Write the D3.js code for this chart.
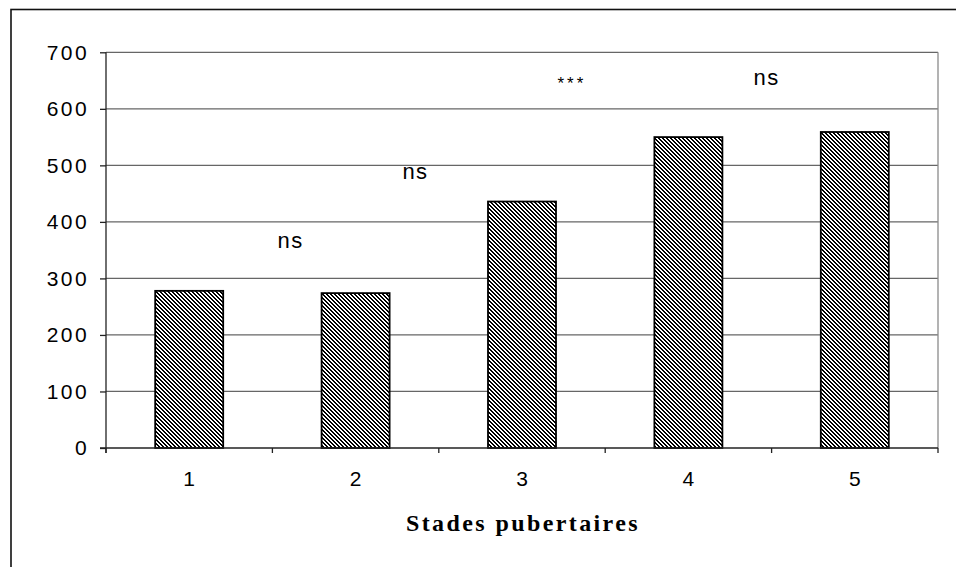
<!DOCTYPE html>
<html>
<head>
<meta charset="utf-8">
<script src="https://cdn.jsdelivr.net/npm/d3@7"></script>
<style>
  html, body { margin: 0; padding: 0; background: #fff; }
  svg { display: block; }
</style>
</head>
<body>
<svg id="chart" width="956" height="567"></svg>
<script>
// Pubertal stages and the mean value measured at each stage
const stages = ["1", "2", "3", "4", "5"];
const values = [278, 274, 436, 550, 559];
const yTicks = [0, 100, 200, 300, 400, 500, 600, 700];

// Significance marks between consecutive stages
const markLabels = ["ns", "ns", "***", "ns"];
const markStage = [1.61, 2.36, 3.3, 4.47];    // position along the stage axis
const markValue = [368, 490, 646, 655];       // height in value units

const svg = d3.select("#chart");
const W = 956, H = 567;
const plot = { left: 106, right: 938, top: 52.3, bottom: 448 };

// Outer frame (runs off the right and bottom edges)
svg.append("rect")
  .attr("x", 11).attr("y", 9.5)
  .attr("width", W).attr("height", H)
  .attr("fill", "#fff").attr("stroke", "#111").attr("stroke-width", 1.6);

// Hatch pattern: 2px black / 2px white diagonal stripes running top-left to bottom-right
const defs = svg.append("defs");
const pat = defs.append("pattern")
  .attr("id", "hatch")
  .attr("patternUnits", "userSpaceOnUse")
  .attr("width", 4).attr("height", 4);
pat.append("rect").attr("width", 4).attr("height", 4).attr("fill", "#fff");
for (let r = 0; r < 4; r++) {
  for (const c of [r % 4, (r + 1) % 4]) {
    pat.append("rect")
      .attr("x", c).attr("y", r).attr("width", 1).attr("height", 1)
      .attr("fill", "#000").attr("shape-rendering", "crispEdges");
  }
}

const x = d3.scaleBand().domain(stages).range([plot.left, plot.right]).padding(0);
const xPos = d3.scaleLinear().domain([0.5, stages.length + 0.5]).range([plot.left, plot.right]);
const y = d3.scaleLinear().domain([0, 700]).range([plot.bottom, plot.top]);

// Horizontal gridlines
svg.append("g")
  .selectAll("line")
  .data(yTicks.filter(t => t > 0))
  .join("line")
  .attr("x1", plot.left).attr("x2", plot.right)
  .attr("y1", d => y(d)).attr("y2", d => y(d))
  .attr("stroke", "#666").attr("stroke-width", 1.3);

// Right border of the plot area
svg.append("line")
  .attr("x1", plot.right).attr("x2", plot.right)
  .attr("y1", y(700)).attr("y2", y(0))
  .attr("stroke", "#8a8a8a").attr("stroke-width", 1.3);

// Bars
const barW = 68;
svg.append("g")
  .selectAll("rect")
  .data(values)
  .join("rect")
  .attr("x", (d, i) => x(stages[i]) + x.bandwidth() / 2 - barW / 2)
  .attr("y", d => y(d))
  .attr("width", barW)
  .attr("height", d => y(0) - y(d))
  .attr("fill", "url(#hatch)")
  .attr("stroke", "#000").attr("stroke-width", 1.8);

// Y axis
const yAxis = d3.axisLeft(y).tickValues(yTicks).tickSize(6).tickPadding(11);
const gy = svg.append("g").attr("transform", `translate(${plot.left},0)`).call(yAxis);
gy.select(".domain").attr("d", `M0,${y(700)}V${y(0) + 5}`).attr("stroke", "#222").attr("stroke-width", 1.3);
gy.selectAll(".tick line").attr("stroke", "#222").attr("stroke-width", 1.3);
gy.selectAll(".tick text")
  .attr("font-family", "Liberation Sans, Arial, sans-serif")
  .attr("font-size", 21).attr("letter-spacing", 2.4)
  .attr("fill", "#000");

// X axis: ticks at category boundaries, labels centred in each band
const gx = svg.append("g").attr("transform", `translate(0,${plot.bottom})`);
gx.append("line")
  .attr("x1", plot.left - 6).attr("x2", plot.right)
  .attr("stroke", "#222").attr("stroke-width", 1.3);
gx.selectAll("line.b")
  .data(d3.range(stages.length + 1))
  .join("line").attr("class", "b")
  .attr("x1", i => xPos(i + 0.5)).attr("x2", i => xPos(i + 0.5))
  .attr("y1", 0).attr("y2", 5)
  .attr("stroke", "#222").attr("stroke-width", 1.3);
gx.selectAll("text")
  .data(stages)
  .join("text")
  .attr("x", d => x(d) + x.bandwidth() / 2)
  .attr("y", 38)
  .attr("text-anchor", "middle")
  .attr("font-family", "Liberation Sans, Arial, sans-serif")
  .attr("font-size", 21)
  .text(d => d);

// Axis title
svg.append("text")
  .attr("x", (plot.left + plot.right) / 2 + 1)
  .attr("y", 531)
  .attr("text-anchor", "middle")
  .attr("font-family", "Liberation Serif, Times New Roman, serif")
  .attr("font-weight", "bold")
  .attr("font-size", 24)
  .attr("letter-spacing", 2.4)
  .text("Stades pubertaires");

// Significance labels
svg.append("g")
  .selectAll("text")
  .data(markLabels)
  .join("text")
  .attr("x", (d, i) => xPos(markStage[i]))
  .attr("y", (d, i) => y(markValue[i]))
  .attr("dy", "0.35em")
  .attr("text-anchor", "middle")
  .attr("font-family", "Liberation Sans, Arial, sans-serif")
  .attr("font-size", d => d === "***" ? 17 : 22)
  .attr("letter-spacing", d => d === "***" ? 3 : 1.5)
  .text(d => d);
</script>
</body>
</html>
